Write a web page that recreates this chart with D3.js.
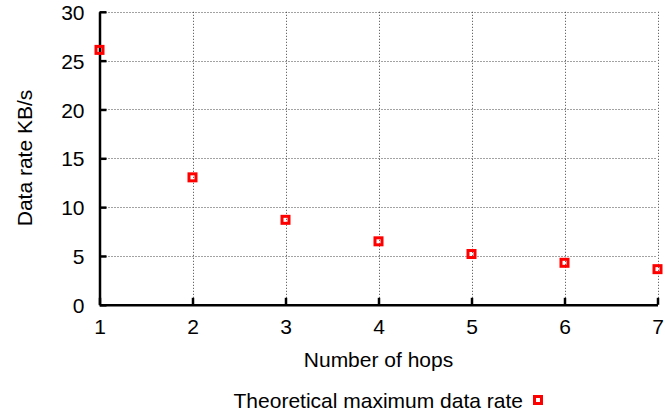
<!DOCTYPE html>
<html>
<head>
<meta charset="utf-8">
<script src="https://cdn.jsdelivr.net/npm/d3@7"></script>
<style>
  html, body { margin: 0; padding: 0; background: #fff; }
  svg { display: block; }
  text { font-family: "Liberation Sans", Arial, Helvetica, sans-serif; fill: #000; }
</style>
</head>
<body>
<svg id="chart" width="665" height="415"></svg>
<script>
// ---- data ----
const hops = [1, 2, 3, 4, 5, 6, 7];
const dataRate = [26.1, 13.05, 8.7, 6.5, 5.2, 4.3, 3.65];
const xTicks = [1, 2, 3, 4, 5, 6, 7];
const yTicks = [0, 5, 10, 15, 20, 25, 30];
const seriesName = "Theoretical maximum data rate";
const xTitle = "Number of hops";
const yTitle = "Data rate KB/s";

// ---- layout ----
const svg = d3.select("#chart");
const pLeft = 99.5, pRight = 657.5, pTop = 11.8, pBottom = 304.8;
const x = d3.scaleLinear().domain([1, 7]).range([pLeft, pRight]);
const y = d3.scaleLinear().domain([0, 30]).range([pBottom, pTop]);
const FS = 21;

// grid lines
const grid = svg.append("g").attr("stroke", "#444").attr("stroke-width", 1)
  .attr("stroke-dasharray", "1,2");
grid.selectAll("line.h").data(yTicks.filter(d => d > 0)).join("line")
  .attr("x1", pLeft).attr("x2", pRight)
  .attr("y1", d => Math.round(y(d)) + 0.5).attr("y2", d => Math.round(y(d)) + 0.5);
grid.selectAll("line.v").data(xTicks.filter(d => d > 1)).join("line")
  .attr("x1", d => Math.round(x(d)) + 0.5).attr("x2", d => Math.round(x(d)) + 0.5)
  .attr("y1", pTop).attr("y2", pBottom);

// axes using d3 axis with inward ticks
const fmt = d3.format("d");
const yAxis = d3.axisLeft(y).tickValues(yTicks).tickFormat(fmt).tickSizeInner(-7).tickSizeOuter(0).tickPadding(22);
const xAxis = d3.axisBottom(x).tickValues(xTicks).tickFormat(fmt).tickSizeInner(-7).tickSizeOuter(0).tickPadding(22);

const gy = svg.append("g").attr("transform", `translate(${pLeft},0)`).call(yAxis);
const gx = svg.append("g").attr("transform", `translate(0,${pBottom})`).call(xAxis);

[gy, gx].forEach(g => {
  g.select(".domain").attr("stroke", "#000").attr("stroke-width", 2.5);
  g.selectAll(".tick line").attr("stroke", "#000").attr("stroke-width", 2.5);
  g.selectAll(".tick text").style("font-family", "'Liberation Sans', Arial, sans-serif")
    .style("font-size", FS + "px").attr("fill", "#000");
});
gy.selectAll(".tick text").attr("x", -15).attr("dy", "0.36em");
gx.selectAll(".tick text").attr("y", 29).attr("dy", 0);

// axis titles
svg.append("text").attr("x", (pLeft + pRight) / 2).attr("y", 367)
  .attr("text-anchor", "middle").style("font-size", FS + "px").text(xTitle);
svg.append("text").attr("transform", "translate(31.5,158) rotate(-90)")
  .attr("text-anchor", "middle").style("font-size", FS + "px").text(yTitle);

// points
const pts = hops.map((h, i) => ({ x: h, y: dataRate[i] }));
const S = 7;
svg.append("g").selectAll("rect").data(pts).join("rect")
  .attr("x", d => x(d.x) - S / 2).attr("y", d => y(d.y) - S / 2)
  .attr("width", S).attr("height", S)
  .attr("fill", "none").attr("stroke", "#ff0000").attr("stroke-width", 3);

// legend
svg.append("text").attr("x", 523).attr("y", 408).attr("text-anchor", "end")
  .style("font-size", FS + "px").text(seriesName);
svg.append("rect").attr("x", 538 - S / 2).attr("y", 400 - S / 2)
  .attr("width", S).attr("height", S)
  .attr("fill", "none").attr("stroke", "#ff0000").attr("stroke-width", 3);
</script>
</body>
</html>
